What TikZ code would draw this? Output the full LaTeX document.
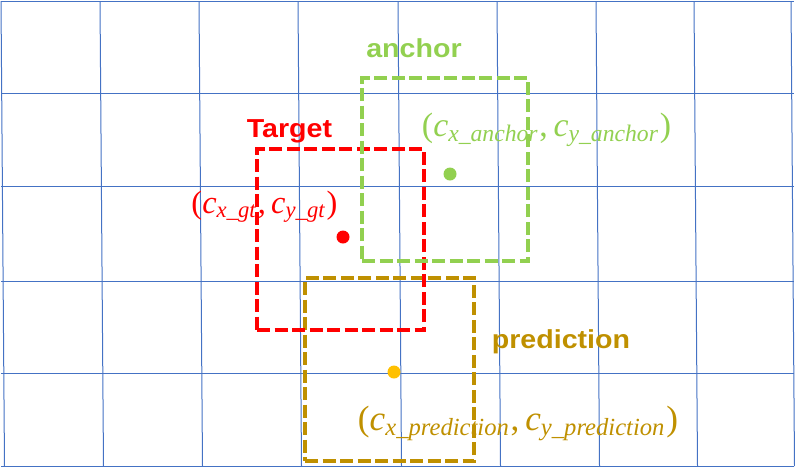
\documentclass[tikz,border=0pt]{standalone}
\usepackage{fontspec}
\setmainfont{Liberation Serif}
\newfontfamily\labfont{Liberation Sans}
\usepackage{graphicx}
\definecolor{gridblue}{HTML}{4472C4}
\definecolor{tred}{HTML}{FF0000}
\definecolor{agreen}{HTML}{92D050}
\definecolor{pgold}{HTML}{BF9000}
\definecolor{pyellow}{HTML}{FFC000}
\newcommand\cvar[1]{\textit{c}\textsubscript{\textit{#1}}}
\newcommand\wide[1]{\scalebox{1.1}[1]{#1}}
\begin{document}
\begin{tikzpicture}[x=1pt,y=-1pt,
  gridline/.style={draw=gridblue,line width=1pt},
  boxframe/.style={draw,line width=4.2pt,dash pattern=on 13pt off 4.5pt,inner sep=0pt,rectangle},
  title/.style={font=\labfont\bfseries\fontsize{26}{30}\selectfont,anchor=base,inner sep=0pt},
  coord/.style={anchor=base,inner sep=0pt},
  dot/.style={circle,inner sep=0pt,minimum size=13pt}]
\useasboundingbox (0,0) rectangle (795,467);
% grid
\foreach \x in {1,100,199,298,398,497,596,694,791}{
  \draw[gridline] (\x,1) -- ({\x+3.5},466);
}
\foreach \y in {1,93,186,281,373,466}{
  \draw[gridline] (1,\y) -- (794,\y);
}
% boxes (gold below red, red below green)
\node[boxframe,draw=pgold,minimum width=169pt,minimum height=183pt] (predbox) at (389.5,369.5) {};
\node[boxframe,draw=tred,minimum width=167pt,minimum height=181pt] (target) at (340.5,239.5) {};
\node[boxframe,draw=agreen,minimum width=166pt,minimum height=183pt] (anchorbox) at (445,169.5) {};
% dots
\node[dot,fill=tred] (gtdot) at (343,237) {};
\node[dot,fill=agreen] (andot) at (450,174) {};
\node[dot,fill=pyellow] (prdot) at (394,372) {};
% titles
\node[title,text=tred] (ttarget) at (289.5,137) {\wide{Target}};
\node[title,text=agreen] (tanchor) at (414,57) {\wide{anchor}};
\node[title,text=pgold] (tpred) at (561,348) {\wide{prediction}};
% coordinates
\node[coord,text=tred] (cgt) at (264.5,213) {\resizebox{146pt}{!}{(\cvar{x\_gt},\,\cvar{y\_gt})}};
\node[coord,text=agreen] (canchor) at (546.5,136) {\resizebox{249pt}{!}{(\cvar{x\_anchor},\,\cvar{y\_anchor})}};
\node[coord,text=pgold] (cpred) at (518,430) {\resizebox{320pt}{!}{(\cvar{x\_prediction},\,\cvar{y\_prediction})}};
\end{tikzpicture}
\end{document}
